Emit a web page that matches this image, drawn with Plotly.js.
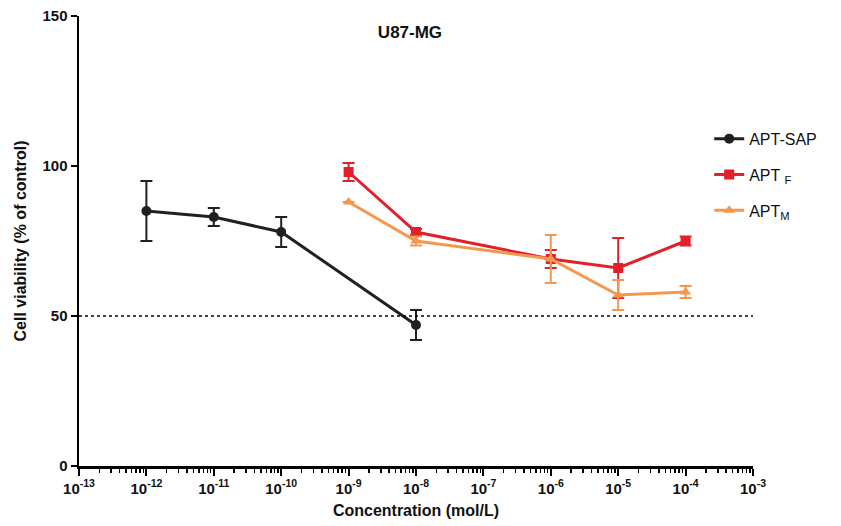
<!DOCTYPE html>
<html><head><meta charset="utf-8">
<script src="https://cdn.plot.ly/plotly-3.0.1.min.js"></script>
<style>html,body{margin:0;padding:0;background:#fff}#chart{width:841px;height:526px}</style>
</head><body><div id="chart"></div>
<script>
const sapX = [1e-12, 1e-11, 1e-10, 1e-8];
const sapY = [85, 83, 78, 47];
const sapErr = [10, 3, 5, 5];

const fX = [1e-9, 1e-8, 1e-6, 1e-5, 1e-4];
const fY = [98, 78, 69, 66, 75];
const fErr = [3, 1, 3, 10, 1.5];

const mX = [1e-9, 1e-8, 1e-6, 1e-5, 1e-4];
const mY = [88, 75, 69, 57, 58];
const mErr = [0, 1.5, 8, 5, 2];

const tickExp = [-13, -12, -11, -10, -9, -8, -7, -6, -5, -4, -3];
const yTicks = [0, 50, 100, 150];

const black = '#231f20', red = '#e2202a', orange = '#f5984f';
const font = 'Liberation Sans, Arial, sans-serif';

function trace(x, y, e, name, color, sym, size, grp) {
  return {
    x: x, y: y, name: name, type: 'scatter', mode: 'lines+markers', legendgroup: grp,
    line: {color: color, width: 3},
    marker: {color: color, symbol: sym, size: size},
    error_y: {type: 'data', array: e, visible: true, color: color, thickness: 2, width: 6}
  };
}

const data = [
  trace(sapX, sapY, sapErr, 'APT-SAP', black, 'circle', 10, 'a'),
  trace(fX, fY, fErr, 'APT <sub>F</sub>', red, 'square', 10, 'b'),
  trace(mX, mY, mErr, 'APT<sub>M</sub>', orange, 'triangle-up', 10, 'c')
];

const layout = {
  width: 841, height: 526,
  margin: {l: 79, r: 88, t: 16, b: 60},
  paper_bgcolor: '#fff', plot_bgcolor: '#fff',
  font: {family: font, color: '#000'},
  showlegend: true,
  title: {text: '<b>U87-MG</b>', font: {size: 17, color: '#111'}, x: 0.4875, xref: 'container', y: 1 - 32/526, yref: 'container', xanchor: 'center', yanchor: 'middle'},
  legend: {x: 0.935, y: 0.765, xanchor: 'left', yanchor: 'top', font: {size: 16, color: '#111'}, bgcolor: 'rgba(0,0,0,0)', tracegroupgap: 12, itemwidth: 30},
  xaxis: {
    type: 'log', range: [-13, -3],
    showline: true, linecolor: '#000', linewidth: 2.5,
    showgrid: false, zeroline: false,
    ticks: 'outside', ticklen: 7, tickwidth: 2, tickcolor: '#000',
    tickvals: tickExp.map(e => Math.pow(10, e)),
    ticktext: tickExp.map(e => '<b>10<sup>' + e + '</sup></b>'),
    tickfont: {size: 15, color: '#111'},
    minor: {ticks: 'outside', ticklen: 4, tickwidth: 1.5, tickcolor: '#000', dtick: 'D1', showgrid: false},
    title: {text: '<b>Concentration (mol/L)</b>', font: {size: 16, color: '#111'}, standoff: 10}
  },
  yaxis: {
    range: [0, 150],
    showline: true, linecolor: '#000', linewidth: 2.5,
    showgrid: false, zeroline: false,
    ticks: 'outside', ticklen: 6, tickwidth: 2, tickcolor: '#000',
    tickvals: yTicks, ticktext: yTicks.map(v => '<b>' + v + '</b>'),
    tickfont: {size: 15, color: '#111'},
    title: {text: '<b>Cell viability (% of control)</b>', font: {size: 16, color: '#111'}, standoff: 12}
  },
  shapes: [{type: 'line', xref: 'paper', x0: 0, x1: 1, yref: 'y', y0: 50, y1: 50,
            line: {color: '#000', width: 1.5, dash: 'dot'}}]
};

Plotly.newPlot('chart', data, layout, {displayModeBar: false, staticPlot: true});
</script></body></html>
